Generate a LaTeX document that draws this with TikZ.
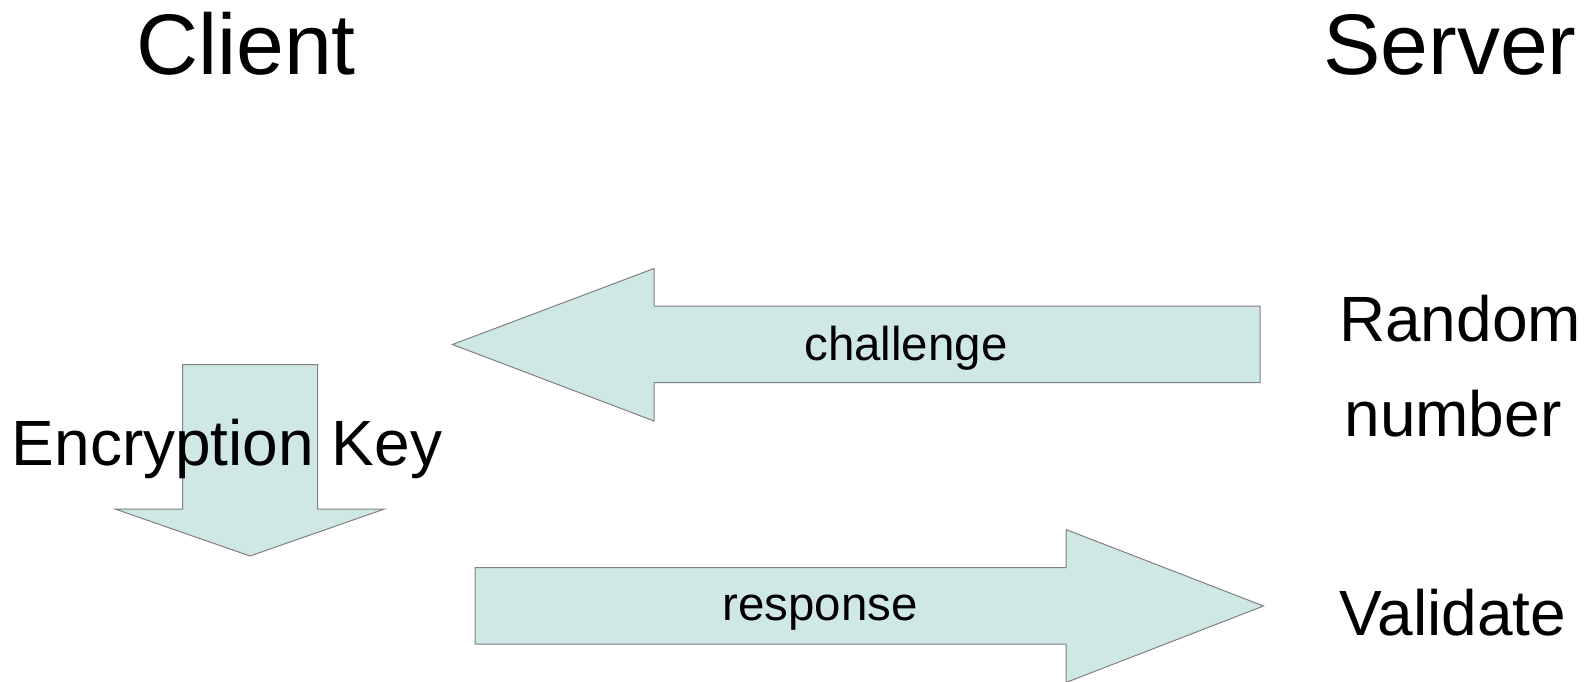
\documentclass[tikz,border=0pt]{standalone}
\usepackage{fontspec}
\setmainfont{Liberation Sans}
\usepackage{xcolor}
\definecolor{arrowfill}{RGB}{207,231,229}
\definecolor{arrowline}{RGB}{128,128,128}
\def\keyarrow{(182.5,364.5) -- (317.5,364.5) -- (317.5,509) -- (384.5,509) -- (250,556) -- (115,509) -- (182.5,509) -- cycle}
\def\challengearrow{(452.5,344.5) -- (654,268.5) -- (654,306) -- (1260,306) -- (1260,382.5) -- (654,382.5) -- (654,421) -- cycle}
\def\responsearrow{(475,567.5) -- (1066,567.5) -- (1066,529.5) -- (1263.5,606) -- (1066,682.5) -- (1066,644) -- (475,644) -- cycle}
\tikzset{
  fatarrow/.style={draw=arrowline,fill=arrowfill,line width=0.75pt},
  headtext/.style={font=\fontsize{64.5}{76}\selectfont,anchor=base,inner sep=0pt},
  sidetext/.style={font=\fontsize{48}{58}\selectfont,anchor=base,inner sep=0pt},
  msgtext/.style={font=\fontsize{35.6}{42}\selectfont,anchor=base,inner sep=0pt}
}
\begin{document}
\begin{tikzpicture}[x=0.75pt,y=-0.75pt]
    \useasboundingbox (0,0) rectangle (1589,682);
      \draw[fatarrow] \keyarrow;
      \draw[fatarrow] \challengearrow;
      \draw[fatarrow] \responsearrow;
      \node[headtext] (client) at (246,74) {Client};
      \node[headtext] (server) at (1450,74) {Server};
      \node[sidetext] (key) at (227,465) {Encryption Key};
      \node[sidetext] (random) at (1460,341.7) {Random};
      \node[sidetext] (number) at (1453,436.7) {number};
      \node[sidetext] (validate) at (1453,635) {Validate};
      \node[msgtext] (challenge) at (906,360) {challenge};
      \node[msgtext] (response) at (820,620) {response};
    \end{tikzpicture}
\end{document}
